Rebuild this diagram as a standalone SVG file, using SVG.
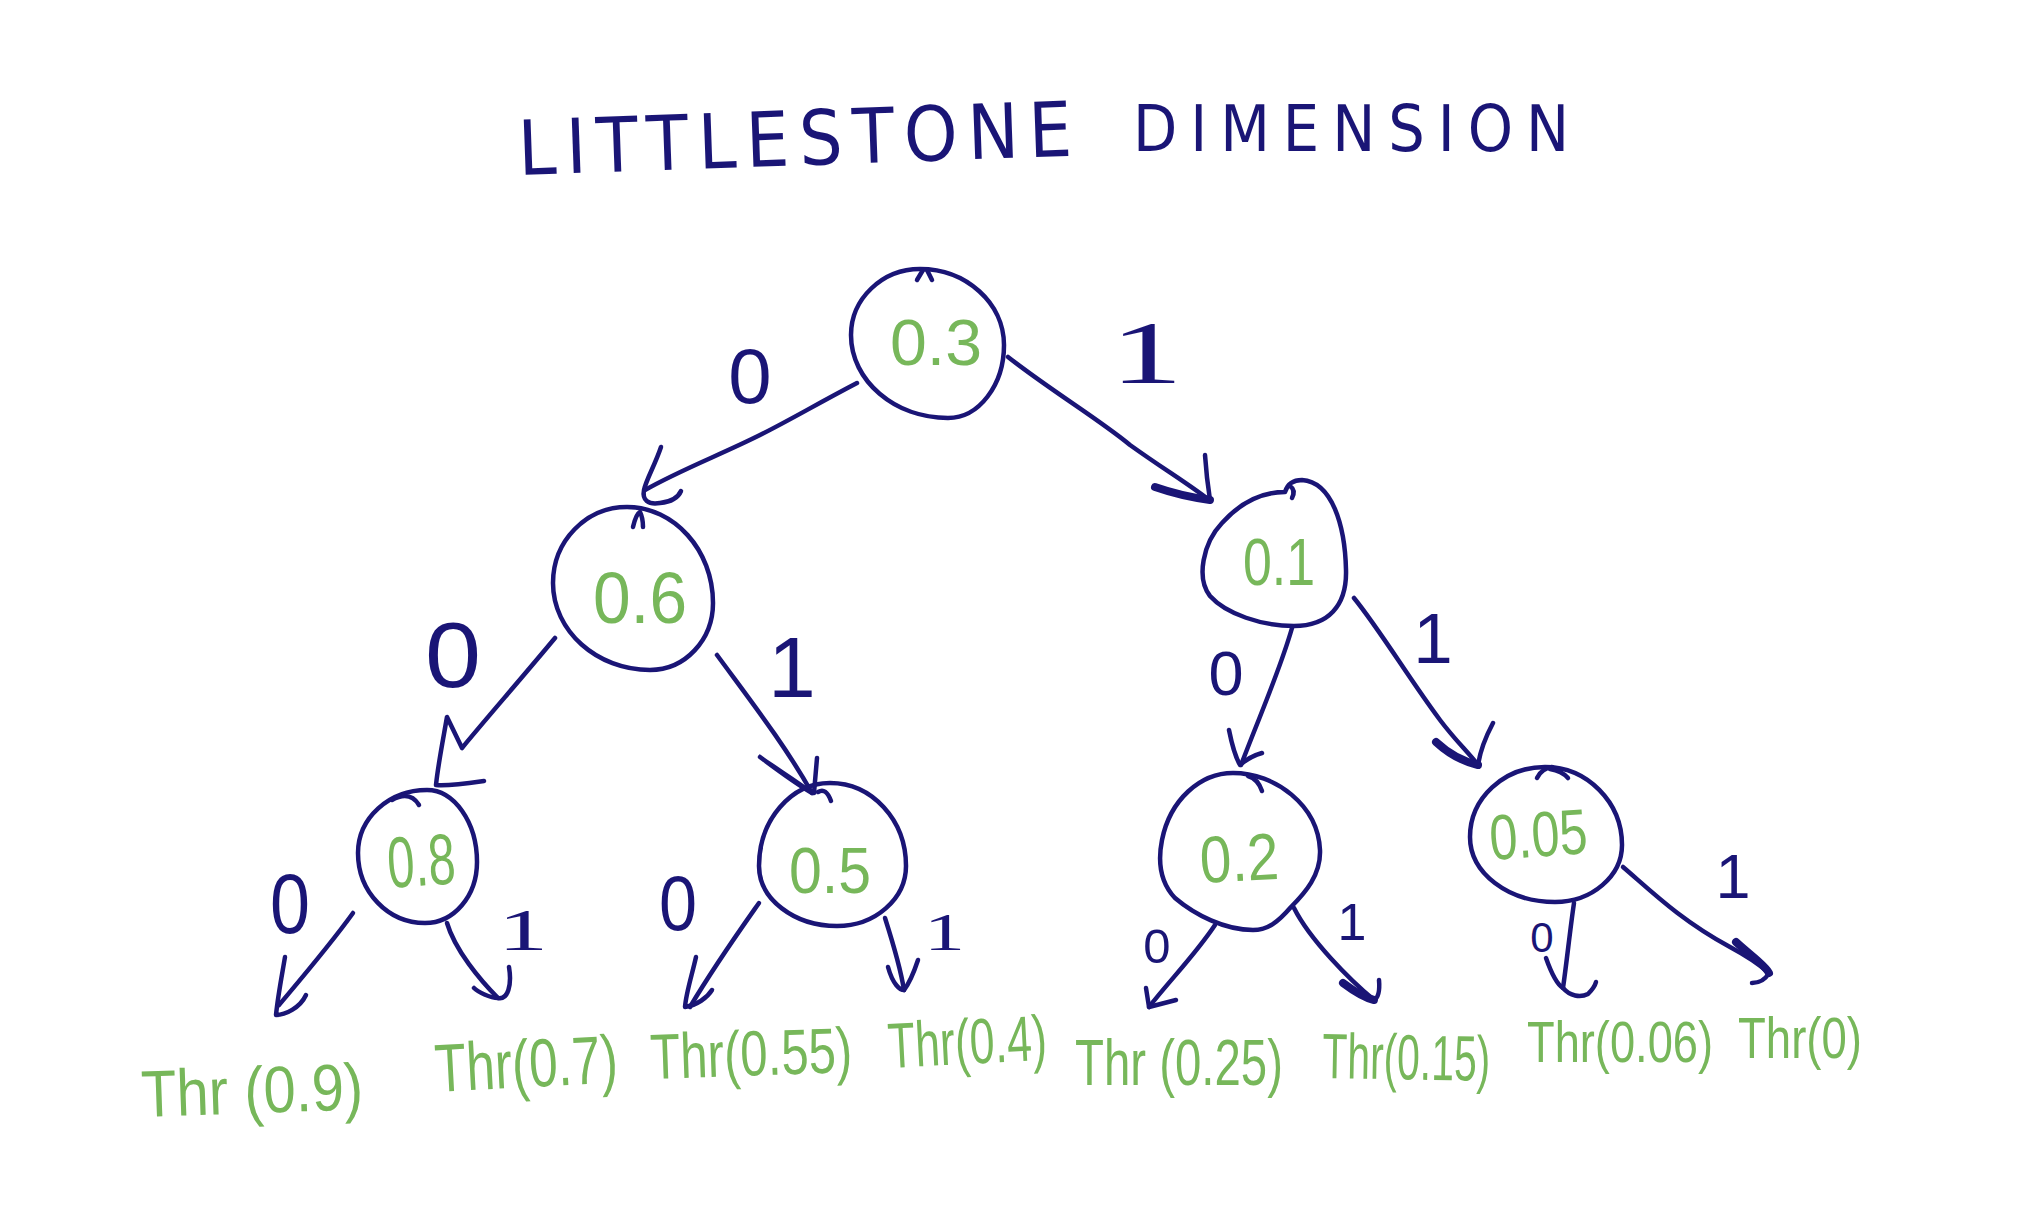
<svg xmlns="http://www.w3.org/2000/svg" width="2042" height="1208" viewBox="0 0 2042 1208">
<style>
.ln{fill:none;stroke:#1a1576;stroke-width:4.5;stroke-linecap:round;stroke-linejoin:round}
.thick{stroke-width:8}
.title{font-family:"DejaVu Sans Condensed","DejaVu Sans","Liberation Sans",sans-serif;font-stretch:condensed;fill:#1a1576}
.val{font-family:"Liberation Sans",Arial,sans-serif;fill:#77b75a}
.el{font-family:"Liberation Sans",Arial,sans-serif;fill:#1a1576;text-anchor:middle}
.els{font-family:"Liberation Serif","Times New Roman",serif;fill:#1a1576}
.leaf{font-family:"Liberation Sans",Arial,sans-serif;fill:#77b75a}
</style>
<rect width="2042" height="1208" fill="#ffffff"/>
<g id="title">
<text class="title" x="519" y="175" font-size="76" textLength="554" lengthAdjust="spacing" transform="rotate(-2 519 175)">LITTLESTONE</text>
<text class="title" x="1133" y="151" font-size="64" textLength="436" lengthAdjust="spacing">DIMENSION</text>
</g>
<g id="connectors">
<path class="ln" d="M857,383 C815,405 790,420 760,435 C720,455 680,470 645,490"/>
<path class="ln" d="M661,447 C655,465 646,480 644,490 C642,500 648,505 660,503 C670,502 678,498 681,491"/>
<path class="ln" d="M1008,357 C1050,390 1100,420 1130,445 C1165,470 1190,485 1209,500"/>
<path class="ln" d="M1205,455 C1206,470 1208,487 1210,500"/>
<path class="ln thick" d="M1155,487 C1175,494 1195,498 1210,500"/>
<path class="ln" d="M555,638 C520,680 485,720 462,748 L447,717 C443,740 438,765 436,785 C450,786 470,783 484,781"/>
<path class="ln" d="M717,655 C750,700 785,745 812,793"/>
<path class="ln" d="M760,757 C780,772 798,785 812,793 C795,780 775,768 760,757 M817,758 L814,793"/>
<path class="ln" d="M1292,628 C1280,670 1262,710 1241,765"/>
<path class="ln" d="M1229,730 C1232,745 1236,758 1240,765 C1248,758 1255,755 1262,753"/>
<path class="ln" d="M1354,598 C1380,630 1410,680 1440,720 C1455,740 1468,752 1478,765"/>
<path class="ln" d="M1493,723 C1485,738 1480,752 1478,765"/>
<path class="ln thick" d="M1436,742 C1450,755 1465,762 1478,765"/>
<path class="ln" d="M353,913 C330,945 300,980 279,1005"/>
<path class="ln" d="M285,957 C282,975 278,995 276,1015 C285,1015 300,1008 306,995"/>
<path class="ln" d="M447,923 C455,950 480,980 498,998"/>
<path class="ln" d="M509,967 C512,985 508,1000 498,998 C490,998 478,992 474,988"/>
<path class="ln" d="M759,903 C740,930 715,965 690,1007"/>
<path class="ln" d="M696,957 C692,975 686,993 685,1007 C697,1005 707,998 712,990"/>
<path class="ln" d="M885,918 C892,940 900,965 904,990"/>
<path class="ln" d="M888,967 C893,985 900,990 904,990 M918,960 C914,972 908,985 904,990"/>
<path class="ln" d="M1215,925 C1195,955 1170,980 1149,1007"/>
<path class="ln" d="M1146,988 L1149,1007 L1176,1000"/>
<path class="ln" d="M1294,908 C1310,940 1350,980 1374,1000"/>
<path class="ln" d="M1379,980 C1380,992 1378,998 1374,1000"/>
<path class="ln thick" d="M1343,983 C1355,992 1365,998 1374,1000"/>
<path class="ln" d="M1574,903 C1570,930 1567,960 1563,988"/>
<path class="ln" d="M1546,958 C1552,975 1558,985 1563,988 C1570,996 1580,998 1588,994 C1592,990 1595,986 1596,982"/>
<path class="ln" d="M1623,867 C1650,890 1680,920 1730,947 C1745,955 1760,965 1769,973"/>
<path class="ln thick" d="M1736,942 C1750,955 1765,965 1769,973"/>
<path class="ln" d="M1769,973 C1765,980 1758,983 1752,983"/>
</g>
<g id="edge-labels">
<text class="el" x="750" y="403" font-size="78">0</text>
<text class="els" x="1110" y="382" font-size="89" textLength="73" lengthAdjust="spacingAndGlyphs">1</text>
<text class="el" x="453" y="687" font-size="92" textLength="56" lengthAdjust="spacingAndGlyphs">0</text>
<text class="el" x="792" y="697" font-size="86">1</text>
<text class="el" x="1226" y="695" font-size="63">0</text>
<text class="el" x="1433" y="663" font-size="71">1</text>
<text class="el" x="290" y="933" font-size="85" textLength="40" lengthAdjust="spacingAndGlyphs">0</text>
<text class="els" x="498" y="950" font-size="59" textLength="50" lengthAdjust="spacingAndGlyphs">1</text>
<text class="el" x="678" y="930" font-size="77" textLength="38" lengthAdjust="spacingAndGlyphs">0</text>
<text class="els" x="924" y="950" font-size="52" textLength="41" lengthAdjust="spacingAndGlyphs">1</text>
<text class="el" x="1157" y="963" font-size="49">0</text>
<text class="el" x="1352" y="940" font-size="52">1</text>
<text class="el" x="1542" y="952" font-size="42">0</text>
<text class="el" x="1733" y="898" font-size="63">1</text>
</g>
<g id="node-root">
<path class="ln" d="M920,269 C966,269 1004,303 1004,345 C1004,385 979,418 948,418 C895,418 851,381 851,335 C851,299 882,269 920,269 Z"/>
<path class="ln" d="M917,280 L923,270 M927,270 L932,280"/>
<text class="val" x="890" y="365" font-size="65" textLength="92" lengthAdjust="spacingAndGlyphs">0.3</text>
</g>
<g id="node-06">
<path class="ln" d="M627,507 C674,507 713,550 713,603 C713,640 685,670 650,670 C597,670 553,631 553,583 C553,541 586,507 627,507 Z"/>
<path class="ln" d="M633,527 Q636,514 640,512 Q643,518 643,527"/>
<text class="val" x="593" y="623" font-size="72" textLength="94" lengthAdjust="spacingAndGlyphs">0.6</text>
</g>
<g id="node-01">
<path class="ln" d="M1285,492 C1288,482 1295,480 1302,480 C1332,482 1345,525 1346,570 C1347,606 1328,626 1294,626 C1262,626 1226,614 1210,596 C1196,578 1203,543 1222,523 C1240,503 1262,492 1285,492 Z"/>
<path class="ln" d="M1290,486 Q1296,490 1292,498"/>
<text class="val" x="1243" y="585" font-size="66" textLength="72" lengthAdjust="spacingAndGlyphs">0.1</text>
</g>
<g id="node-08">
<path class="ln" d="M427,790 C454,790 477,822 477,862 C477,896 454,923 425,923 C388,923 358,892 358,853 C358,818 389,790 427,790 Z"/>
<path class="ln" d="M392,800 Q410,790 419,805"/>
<text class="val" x="389" y="888" font-size="72" textLength="68" lengthAdjust="spacingAndGlyphs" transform="rotate(-4 389 888)">0.8</text>
</g>
<g id="node-05">
<path class="ln" d="M830,783 C872,783 906,820 906,866 C906,899 875,926 837,926 C794,926 759,899 759,866 C759,820 791,783 830,783 Z"/>
<path class="ln" d="M818,792 Q826,787 831,801"/>
<text class="val" x="789" y="893" font-size="64" textLength="82" lengthAdjust="spacingAndGlyphs">0.5</text>
</g>
<g id="node-02">
<path class="ln" d="M1233,773 C1275,773 1318,805 1320,850 C1321,875 1305,893 1291,907 C1278,922 1268,930 1253,930 C1225,930 1195,915 1175,898 C1160,882 1158,860 1162,840 C1170,800 1200,773 1233,773 Z"/>
<path class="ln" d="M1248,776 Q1258,779 1262,791"/>
<text class="val" x="1201" y="883" font-size="66" textLength="79" lengthAdjust="spacingAndGlyphs" transform="rotate(-3 1201 883)">0.2</text>
</g>
<g id="node-005">
<path class="ln" d="M1545,767 C1587,767 1622,802 1622,845 C1622,876 1592,902 1555,902 C1508,902 1470,873 1470,837 C1470,798 1504,767 1545,767 Z"/>
<path class="ln" d="M1537,778 Q1542,768 1552,767 M1550,769 Q1562,771 1568,778"/>
<text class="val" x="1491" y="860" font-size="64" textLength="98" lengthAdjust="spacingAndGlyphs" transform="rotate(-4 1491 860)">0.05</text>
</g>
<g id="leaves">
<text class="leaf" x="142" y="1117" font-size="66" textLength="222" lengthAdjust="spacingAndGlyphs" transform="rotate(-2 142 1117)">Thr (0.9)</text>
<text class="leaf" x="436" y="1092" font-size="68" textLength="183" lengthAdjust="spacingAndGlyphs" transform="rotate(-3 436 1092)">Thr(0.7)</text>
<text class="leaf" x="651" y="1079" font-size="64" textLength="202" lengthAdjust="spacingAndGlyphs" transform="rotate(-2 651 1079)">Thr(0.55)</text>
<text class="leaf" x="889" y="1068" font-size="64" textLength="159" lengthAdjust="spacingAndGlyphs" transform="rotate(-3 889 1068)">Thr(0.4)</text>
<text class="leaf" x="1075" y="1085" font-size="64" textLength="208" lengthAdjust="spacingAndGlyphs">Thr (0.25)</text>
<text class="leaf" x="1322" y="1078" font-size="64" textLength="168" lengthAdjust="spacingAndGlyphs" transform="rotate(1 1322 1078)">Thr(0.15)</text>
<text class="leaf" x="1527" y="1062" font-size="58" textLength="186" lengthAdjust="spacingAndGlyphs">Thr(0.06)</text>
<text class="leaf" x="1738" y="1058" font-size="58" textLength="124" lengthAdjust="spacingAndGlyphs">Thr(0)</text>
</g>
</svg>
